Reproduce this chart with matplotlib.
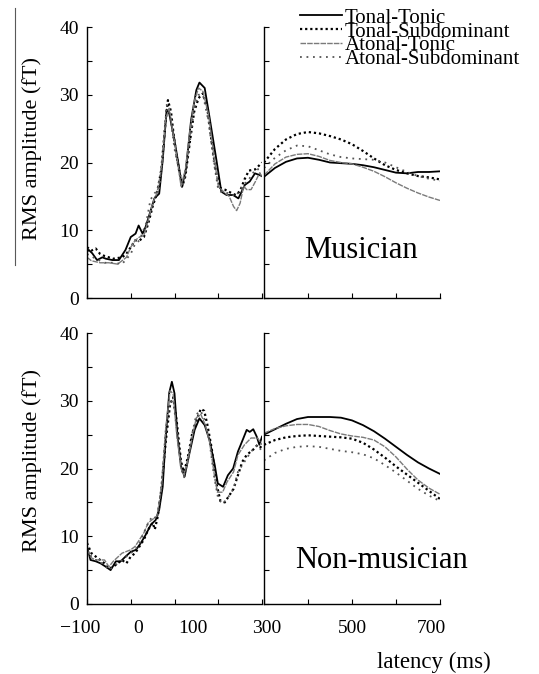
import matplotlib
matplotlib.use("Agg")
import matplotlib.pyplot as plt
from matplotlib.lines import Line2D

plt.rcParams['font.family'] = ['Liberation Serif', 'DejaVu Serif']

# ---------------- data (latency ms, RMS amplitude fT) ----------------
series_names = ["Tonal-Tonic", "Tonal-Subdominant", "Atonal-Tonic", "Atonal-Subdominant"]

# Musician, -100..300 ms
mus_tt_t = [-100, -96, -88, -77, -65, -57, -42, -27, -12, 0, 11, 18, 27, 34, 46, 54, 65, 73, 82, 88, 100, 111, 117,
            126, 138, 150, 157, 169, 180, 196, 207, 219, 234, 246, 261, 272, 284, 296, 300]
mus_tt_v = [6.8, 7.1, 6.6, 5.6, 6.0, 5.8, 5.6, 5.6, 7.1, 9.0, 9.5, 10.7, 9.5, 10.5, 13.0, 14.7, 15.4, 20.3, 27.8, 27.2,
            23.3, 19.0, 16.4, 19.0, 26.3, 30.7, 31.8, 31.0, 26.7, 20.3, 15.7, 15.2, 15.2, 14.7, 16.7, 17.2, 18.4, 18.1, 18.0]
mus_ts_t = [-100, -90, -80, -70, -60, -40, -20, -10, 0, 10, 20, 30, 40, 50, 60, 70, 78, 85, 92, 100, 110, 118, 125,
            135, 145, 155, 165, 175, 185, 195, 205, 215, 230, 240, 250, 260, 270, 285, 300]
mus_ts_v = [7.5, 7.0, 7.3, 6.5, 6.2, 5.8, 6.0, 6.5, 7.5, 8.5, 8.5, 9.0, 11.0, 13.5, 15.5, 19.0, 25.0, 29.2, 27.5, 23.0,
            19.0, 16.5, 18.0, 23.0, 27.5, 29.5, 30.2, 28.0, 23.0, 18.5, 16.2, 16.0, 15.5, 15.2, 15.8, 17.5, 18.8, 19.0, 20.0]
mus_at_t = [-100, -90, -70, -50, -30, -10, 0, 10, 20, 30, 40, 50, 60, 70, 80, 88, 95, 105, 115, 125, 135, 145, 155,
            165, 178, 190, 200, 215, 225, 235, 242, 250, 258, 265, 275, 285, 295, 300]
mus_at_v = [6.0, 5.5, 5.2, 5.2, 5.0, 6.0, 7.5, 8.5, 9.0, 9.2, 11.5, 14.0, 15.5, 19.0, 26.5, 28.0, 25.0, 21.0, 16.5,
            19.0, 24.5, 29.0, 31.0, 30.5, 27.0, 21.0, 16.5, 15.5, 15.0, 13.5, 12.9, 14.0, 16.5, 16.0, 16.0, 17.2, 18.5, 17.8]
mus_as_t = [-100, -80, -60, -40, -20, 0, 10, 20, 35, 45, 55, 65, 75, 82, 90, 100, 110, 118, 125, 135, 145, 155, 165,
            178, 190, 200, 210, 225, 240, 255, 270, 285, 300]
mus_as_v = [6.5, 5.8, 5.2, 5.2, 5.0, 6.5, 8.0, 8.5, 11.0, 14.5, 15.5, 16.0, 22.0, 28.5, 27.0, 22.0, 19.0, 16.5, 18.5,
            23.0, 28.0, 30.0, 30.0, 26.0, 20.0, 16.0, 15.5, 15.5, 15.0, 16.5, 17.5, 19.0, 19.0]

# Non-musician, -100..300 ms
non_tt_t = [-100, -92, -80, -69, -57, -46, -34, -23, -12, 0, 12, 23, 34, 46, 57, 65, 73, 80, 88, 94, 100, 107, 115,
            123, 134, 146, 157, 169, 180, 192, 199, 211, 222, 234, 245, 257, 265, 272, 280, 288, 294, 300]
non_tt_v = [8.5, 6.5, 6.3, 6.0, 5.5, 5.0, 6.3, 6.3, 7.0, 7.7, 8.0, 9.0, 10.2, 11.7, 12.4, 13.9, 17.3, 24.7, 31.2, 32.8,
            31.1, 24.7, 20.3, 18.8, 22.2, 25.7, 27.4, 26.4, 24.2, 20.5, 17.8, 17.3, 19.0, 20.0, 22.5, 24.4, 25.7, 25.4,
            25.8, 24.7, 23.5, 24.7]
non_ts_t = [-100, -90, -80, -60, -50, -40, -20, -10, 0, 10, 20, 30, 40, 50, 55, 62, 70, 80, 90, 97, 105, 115, 122,
            130, 140, 150, 160, 168, 175, 185, 195, 205, 215, 225, 235, 245, 255, 265, 280, 290, 300]
non_ts_v = [9.0, 7.5, 7.0, 6.0, 5.2, 5.5, 6.5, 6.0, 7.0, 7.5, 8.5, 9.5, 11.0, 12.0, 11.0, 13.0, 17.0, 24.0, 29.5, 30.5,
            27.0, 21.0, 19.5, 21.5, 25.0, 27.0, 28.8, 28.5, 26.5, 23.0, 18.0, 15.2, 15.0, 16.0, 17.0, 19.0, 21.0, 22.0,
            22.8, 23.5, 23.0]
non_at_t = [-100, -90, -80, -60, -50, -40, -20, 0, 10, 20, 30, 40, 50, 60, 70, 80, 90, 97, 105, 115, 122, 130, 140,
            150, 160, 170, 180, 190, 198, 210, 220, 235, 245, 260, 275, 290, 300]
non_at_v = [8.0, 6.8, 6.5, 6.5, 5.5, 6.3, 7.5, 8.0, 8.5, 9.5, 10.5, 12.0, 12.5, 13.0, 17.0, 26.0, 31.5, 31.0, 25.0,
            20.0, 19.0, 21.0, 24.5, 27.5, 28.0, 26.5, 24.0, 19.5, 16.5, 16.5, 18.0, 19.5, 22.0, 23.5, 24.5, 24.5, 23.5]
non_as_t = [-100, -90, -80, -60, -50, -40, -20, 0, 10, 20, 30, 40, 50, 60, 70, 80, 90, 98, 105, 115, 122, 130, 140,
            150, 160, 170, 180, 190, 200, 210, 220, 235, 245, 260, 275, 290, 300]
non_as_v = [8.0, 7.0, 6.5, 5.8, 5.0, 5.5, 6.5, 7.5, 8.0, 9.0, 10.5, 12.0, 13.0, 12.5, 17.0, 25.5, 30.0, 29.5, 26.0,
            20.0, 18.7, 21.0, 25.0, 28.0, 28.5, 27.0, 24.0, 19.0, 15.5, 14.8, 15.5, 17.0, 19.5, 21.0, 22.5, 23.5, 22.5]

# 300..700 ms
late_t = [300, 325, 350, 375, 400, 425, 450, 475, 500, 525, 550, 575, 600, 625, 650, 675, 700]
mus_tt_late = [17.9, 19.2, 20.1, 20.6, 20.7, 20.4, 20.0, 19.9, 19.8, 19.6, 19.3, 18.9, 18.5, 18.4, 18.6, 18.6, 18.7]
mus_ts_late = [20.0, 22.0, 23.4, 24.2, 24.5, 24.3, 23.9, 23.4, 22.7, 21.7, 20.6, 19.6, 18.9, 18.4, 18.0, 17.8, 17.5]
mus_at_late = [18.1, 19.8, 20.8, 21.2, 21.3, 20.9, 20.3, 20.0, 19.8, 19.3, 18.7, 17.9, 17.0, 16.2, 15.5, 14.9, 14.4]
mus_as_late = [19.2, 20.7, 21.8, 22.5, 22.4, 21.8, 21.2, 20.8, 20.6, 20.5, 20.4, 20.0, 19.3, 18.6, 18.0, 17.6, 17.3]
non_tt_late = [25.0, 25.8, 26.6, 27.3, 27.6, 27.6, 27.6, 27.5, 27.1, 26.4, 25.5, 24.4, 23.2, 22.0, 20.9, 20.0, 19.2]
non_ts_late = [23.5, 24.2, 24.6, 24.8, 24.9, 24.8, 24.7, 24.6, 24.4, 23.8, 22.8, 21.6, 20.3, 19.1, 17.9, 16.7, 15.5]
non_at_late = [25.2, 25.9, 26.3, 26.5, 26.5, 26.2, 25.6, 25.1, 24.8, 24.6, 24.2, 23.2, 21.7, 19.9, 18.3, 17.1, 16.2]
non_as_late = [21.2, 22.3, 22.9, 23.2, 23.3, 23.2, 22.9, 22.6, 22.4, 22.1, 21.5, 20.5, 19.4, 18.2, 17.0, 16.0, 15.2]

y_ticks = [0, 10, 20, 30, 40]
early_tick_labels = {-100: "\u2212100", 0: "0", 100: "100"}
late_tick_labels = {300: "300", 500: "500", 700: "700"}

# ---------------- styles ----------------
styles = [
    dict(color="black", lw=1.3, ls="-"),
    dict(color="black", lw=1.6, ls=(0, (1.0, 1.3))),
    dict(color="#7a7a7a", lw=1.0, ls=(0, (4, 0.8))),
    dict(color="#555555", lw=1.3, ls=(0, (1.0, 2.6))),
]

W, H = 539, 674
fig = plt.figure(figsize=(W / 100, H / 100), dpi=100)


def add_ax(x0, x1, ytop, ybot):
    return fig.add_axes([x0 / W, 1 - ybot / H, (x1 - x0) / W, (ybot - ytop) / H])


def style_axes(ax, xlim, xticks, show_ylabels):
    ax.set_xlim(*xlim)
    ax.set_ylim(0, 40)
    for s in ("top", "right"):
        ax.spines[s].set_visible(False)
    for s in ("left", "bottom"):
        ax.spines[s].set_linewidth(1.0)
    ax.set_xticks(xticks)
    ax.set_xticklabels([])
    ax.set_yticks(y_ticks)
    ax.set_yticks([5, 15, 25, 35], minor=True)
    ax.tick_params(which="both", direction="in", length=3.5, width=0.8)
    ax.tick_params(axis="y", labelsize=14, pad=6)
    if not show_ylabels:
        ax.set_yticklabels([])
    ax.patch.set_alpha(0)


panels = [
    (27, 298, [(mus_tt_t, mus_tt_v), (mus_ts_t, mus_ts_v), (mus_at_t, mus_at_v), (mus_as_t, mus_as_v)],
     [mus_tt_late, mus_ts_late, mus_at_late, mus_as_late], "Musician", (0.55, 0.175), 148),
    (333, 604, [(non_tt_t, non_tt_v), (non_ts_t, non_ts_v), (non_at_t, non_at_v), (non_as_t, non_as_v)],
     [non_tt_late, non_ts_late, non_at_late, non_as_late], "Non-musician", (0.67, 0.16), 460),
]

handles = []
for pi, (ytop, ybot, early, late, name, name_pos, ylab_y) in enumerate(panels):
    axl = add_ax(87, 262, ytop, ybot)
    axr = add_ax(264, 440, ytop, ybot)
    style_axes(axl, (-100, 300), [-100, 0, 100, 200, 300], True)
    style_axes(axr, (300, 700), [300, 400, 500, 600, 700], False)
    axr.set_yticks([0, 5, 10, 15, 20, 25, 30, 35, 40])
    axr.set_yticklabels([])
    for k in range(4):
        t, v = early[k]
        ln, = axl.plot(t, v, **styles[k], label=series_names[k])
        axr.plot(late_t, late[k], **styles[k])
        if pi == 0:
            handles.append(ln)
    axr.text(name_pos[0], name_pos[1], name, transform=axr.transAxes, fontsize=22,
             ha="center", va="center")
    fig.text(32 / W, 1 - ylab_y / H, "RMS amplitude (fT)", rotation=90, fontsize=16,
             ha="center", va="center")
    if pi == 1:
        offs = {-100: -5, 0: 5, 100: 13}
        for x, lab in early_tick_labels.items():
            axl.annotate(lab, xy=(x, 0), xycoords=("data", "axes fraction"),
                         xytext=(offs[x], -17.5), textcoords="offset points",
                         ha="center", va="center", fontsize=14)
        offs = {300: 2, 500: 0, 700: -6}
        for x, lab in late_tick_labels.items():
            axr.annotate(lab, xy=(x, 0), xycoords=("data", "axes fraction"),
                         xytext=(offs[x], -17.5), textcoords="offset points",
                         ha="center", va="center", fontsize=14)

fig.text(434 / W, 1 - 662 / H, "latency (ms)", fontsize=16.5, ha="center", va="center")

fig.legend(handles=handles, labels=series_names, loc="upper left",
           bbox_to_anchor=(300 / W, 1 - 8 / H), bbox_transform=fig.transFigure,
           frameon=False, fontsize=15, handlelength=2.0, handletextpad=0.15,
           labelspacing=-0.27, borderpad=0, borderaxespad=0)

# faint scan edge line at the left of the page
fig.add_artist(Line2D([15 / W, 15 / W], [1 - 8 / H, 1 - 265 / H], color="0.35", lw=0.8))

fig.savefig("out.png", dpi=100)
